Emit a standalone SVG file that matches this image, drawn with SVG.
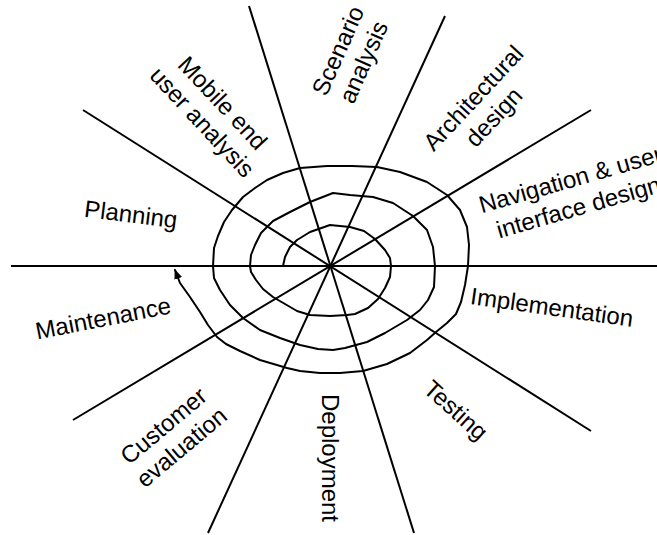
<svg xmlns="http://www.w3.org/2000/svg" width="657" height="535" viewBox="0 0 657 535">
  <style>
    .ln { stroke: #000; stroke-width: 2; fill: none; stroke-linecap: butt; }
    .sp { stroke: #000; stroke-width: 2; fill: none; stroke-linejoin: round; stroke-linecap: round; }
    .lbl { font-family: "Liberation Sans", Arial, sans-serif; font-size: 24px; fill: #000; text-anchor: middle; }
    .c { dominant-baseline: central; }
  </style>
  <defs>
    <marker id="ah" markerUnits="userSpaceOnUse" markerWidth="12" markerHeight="10" refX="9" refY="4" orient="auto">
      <path d="M0,0 L10,4 L0,8 Z" fill="#000"/>
    </marker>
  </defs>
  <rect width="657" height="535" fill="#fff"/>

  <g id="connectors">
    <g id="spokes">
      <line class="ln" x1="11" y1="266" x2="657" y2="266"/>
      <line class="ln" x1="83" y1="110" x2="591" y2="431"/>
      <line class="ln" x1="249" y1="6" x2="414" y2="533"/>
      <line class="ln" x1="445" y1="16" x2="208" y2="533"/>
      <line class="ln" x1="591" y1="110" x2="73" y2="420"/>
    </g>
    <g id="spiral">
      <polyline class="sp" marker-end="url(#ah)" points="283,266 285,257 290,247 297,240 310,232 330,225 350,227 364,231 375,239 385,250 390,258 391,266 390,277 385,288 378,299 368,308 355,314 347,315 330,316 310,315 297,311 285,304 273,297 263,289 256,280 251,272 250,266 251,255 255,245 261,233 273,221 290,212 310,202 333,193 350,195 373,197 393,203 413,216 427,230 433,247 435,266 434,287 428,300 420,310 407,320 385,333 367,342 345,348 333,350 318,349 300,345 280,338 260,330 243,318 230,305 220,290 214,278 213,266 214,248 218,236 224,222 232,210 243,197 255,188 267,180 283,173 300,168 327,166 352,166 377,167 400,172 427,182 447,195 460,210 467,227 469,245 468,266 465,285 461,302 456,314 447,323 436,332 427,340 410,353 387,364 363,371 340,373 320,373 300,371 287,368 260,360 240,351 226,344 217,337 208,325 200,312 190,297 180,283 175,270"/>
    </g>
  </g>

  <g id="planning"><text class="lbl c" transform="translate(131,214) rotate(7)">Planning</text></g>
  <g id="mobile-end-user-analysis">
    <text class="lbl c" transform="translate(213,112) rotate(47)"><tspan x="0" y="-14">Mobile end</tspan><tspan x="0" y="14">user analysis</tspan></text>
  </g>
  <g id="scenario-analysis">
    <text class="lbl c" transform="translate(350,56) rotate(-66)"><tspan x="0" y="-14">Scenario</tspan><tspan x="0" y="14">analysis</tspan></text>
  </g>
  <g id="architectural-design">
    <text class="lbl c" transform="translate(483,107) rotate(-47)"><tspan x="0" y="-14">Architectural</tspan><tspan x="0" y="14">design</tspan></text>
  </g>
  <g id="navigation-ui-design">
    <text class="lbl" transform="translate(572.7,187.2) rotate(-16)"><tspan x="0" y="0">Navigation &amp; user</tspan><tspan x="0" y="29">interface design</tspan></text>
  </g>
  <g id="implementation"><text class="lbl c" transform="translate(552,307) rotate(8)">Implementation</text></g>
  <g id="testing"><text class="lbl c" transform="translate(456,410) rotate(42)">Testing</text></g>
  <g id="deployment"><text class="lbl c" transform="translate(330,458) rotate(90)">Deployment</text></g>
  <g id="customer-evaluation">
    <text class="lbl c" transform="translate(172,436) rotate(-40)"><tspan x="0" y="-14">Customer</tspan><tspan x="0" y="14">evaluation</tspan></text>
  </g>
  <g id="maintenance"><text class="lbl c" transform="translate(103,318) rotate(-11)">Maintenance</text></g>
</svg>
